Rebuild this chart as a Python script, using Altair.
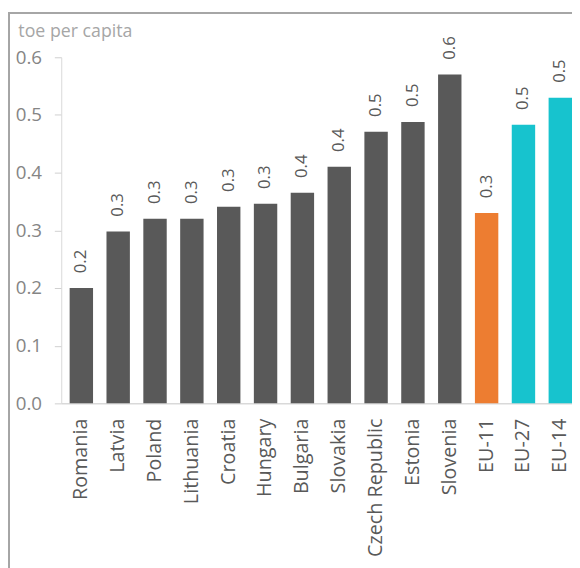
import altair as alt
import pandas as pd

countries = ["Romania", "Latvia", "Poland", "Lithuania", "Croatia", "Hungary",
             "Bulgaria", "Slovakia", "Czech Republic", "Estonia", "Slovenia",
             "EU-11", "EU-27", "EU-14"]
values = [0.200, 0.298, 0.320, 0.320, 0.341, 0.346, 0.365, 0.410, 0.471,
          0.488, 0.570, 0.330, 0.483, 0.530]
groups = ["country"] * 11 + ["EU-11", "EU-old", "EU-old"]

df = pd.DataFrame({"country": countries, "value": values, "group": groups})

FONT = "Open Sans"

xenc = alt.X("country:N", sort=countries, title=None,
             scale=alt.Scale(paddingInner=0.365, paddingOuter=0.114, align=1),
             axis=alt.Axis(labelAngle=-90, ticks=False, labelPadding=15,
                           labelFontSize=20, labelColor="#595959", labelFont=FONT,
                           domainColor="#d9d9d9", domainWidth=1.5))
yenc = alt.Y("value:Q", title="toe per capita",
             scale=alt.Scale(domain=[0, 0.6], nice=False),
             axis=alt.Axis(values=[0, 0.1, 0.2, 0.3, 0.4, 0.5, 0.6], format=".1f",
                           grid=False, tickSize=7, tickColor="#cfcfcf",
                           domainColor="#d9d9d9", labelPadding=13,
                           labelFontSize=19, labelColor="#858585", labelFont=FONT,
                           titleAngle=0, titleAlign="left", titleBaseline="alphabetic",
                           titleX=-44, titleY=-21, titleFontSize=18,
                           titleFontWeight="normal", titleColor="#a6a6a6", titleFont=FONT))

color = alt.Color("group:N", legend=None,
                  scale=alt.Scale(domain=["country", "EU-11", "EU-old"],
                                  range=["#595959", "#ED7D31", "#17C3CE"]))

bars = alt.Chart(df).mark_bar().encode(x=xenc, y=yenc, color=color)

labels = alt.Chart(df).mark_text(angle=270, align="left", baseline="middle", dx=15,
                                 fontSize=17, font=FONT, color="#595959").encode(
    x=alt.X("country:N", sort=countries),
    y=alt.Y("value:Q"),
    text=alt.Text("value:Q", format=".1f"))

frame_left = alt.Chart(df).mark_rule(color="#a6a6a6", strokeWidth=2).encode(
    x=alt.value(-53), y=alt.value(-46), y2=alt.value(520))
frame_top = alt.Chart(df).mark_rule(color="#a6a6a6", strokeWidth=2).encode(
    y=alt.value(-45), x=alt.value(-54), x2=alt.value(530))

chart = alt.layer(bars, labels, frame_left, frame_top).properties(
    width=518, height=351,
    autosize=alt.AutoSizeParams(type="none"),
    padding={"left": 54, "top": 46, "right": 0, "bottom": 163},
).configure_view(stroke=None)

chart.save("out.html", embed_options={"renderer": "svg", "actions": False})
